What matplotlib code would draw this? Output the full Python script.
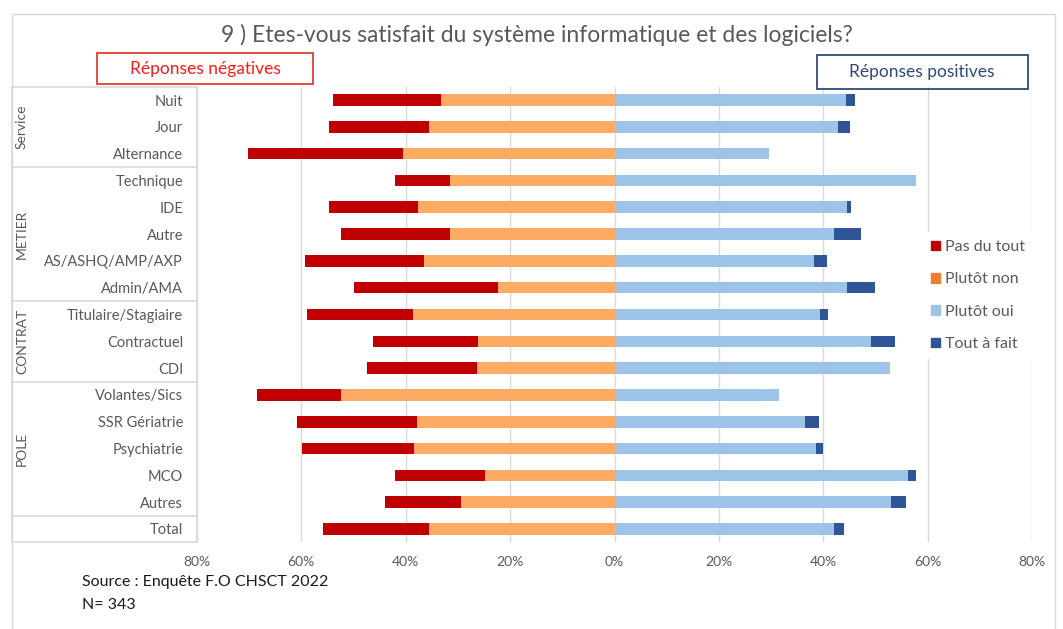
import numpy as np
import matplotlib.pyplot as plt
from matplotlib.patches import Patch, Rectangle
from matplotlib.transforms import blended_transform_factory

plt.rcParams['font.family'] = ['Lato', 'DejaVu Sans']

# --- données (en %) ---
categories = ["Nuit", "Jour", "Alternance",
              "Technique", "IDE", "Autre", "AS/ASHQ/AMP/AXP", "Admin/AMA",
              "Titulaire/Stagiaire", "Contractuel", "CDI",
              "Volantes/Sics", "SSR Gériatrie", "Psychiatrie", "MCO", "Autres",
              "Total"]
pas_du_tout = [20.6, 19.1, 29.7, 10.4, 17.0, 20.9, 22.9, 27.7,
               20.3, 20.1, 21.1, 16.0, 23.1, 21.4, 17.2, 14.5, 20.4]
plutot_non = [33.3, 35.6, 40.6, 31.6, 37.7, 31.6, 36.5, 22.3,
              38.7, 26.1, 26.3, 52.5, 37.8, 38.5, 24.9, 29.5, 35.5]
plutot_oui = [44.4, 42.8, 29.6, 57.8, 44.5, 42.1, 38.3, 44.5,
              39.3, 49.1, 52.7, 31.6, 36.5, 38.7, 56.2, 52.9, 42.0]
tout_a_fait = [1.6, 2.3, 0.0, 0.0, 0.8, 5.2, 2.4, 5.5,
               1.7, 4.7, 0.0, 0.0, 2.6, 1.2, 1.5, 3.0, 2.0]
groups = ["Service", "METIER", "CONTRAT", "POLE", ""]
group_sizes = [3, 5, 3, 5, 1]
ticks = [-80, -60, -40, -20, 0, 20, 40, 60, 80]

# couleurs
c_pdt, c_pn, c_po, c_taf = "#C00000", "#FDAB62", "#9DC3E6", "#2F5597"
grey_txt = "#595959"
line_col = "#D9D9D9"

fig = plt.figure(figsize=(10.63, 6.29), dpi=100)
W, H = 1063, 629
ax = fig.add_axes([197 / W, 1 - 542.4 / H, 835 / W, 455.8 / H])

y = np.arange(len(categories))
pdt = np.array(pas_du_tout)
pn = np.array(plutot_non)
po = np.array(plutot_oui)
taf = np.array(tout_a_fait)
h = 0.43

ax.barh(y, pdt, left=-(pn + pdt), height=h, color=c_pdt, zorder=3)
ax.barh(y, pn, left=-pn, height=h, color=c_pn, zorder=3)
ax.barh(y, po, left=0, height=h, color=c_po, zorder=3)
ax.barh(y, taf, left=po, height=h, color=c_taf, zorder=3)

ax.set_xlim(-80, 80)
ax.set_ylim(len(categories) - 0.5, -0.5)
ax.set_xticks(ticks)
ax.set_xticklabels([f"{abs(t)}%" for t in ticks])
for t in ticks:
    ax.axvline(t, color=line_col, lw=1, zorder=1)
ax.set_yticks(y)
ax.set_yticklabels(categories)
ax.tick_params(axis='y', length=0, pad=10, labelsize=10.5, labelcolor=grey_txt)
ax.tick_params(axis='x', length=0, pad=10, labelsize=10, labelcolor=grey_txt)
for s in ax.spines.values():
    s.set_visible(False)

# tableau des groupes à gauche
tr = blended_transform_factory(ax.transAxes, ax.transData)
x_left = (12 - 197) / 835
bounds = np.concatenate([[0], np.cumsum(group_sizes)]) - 0.5
for b in bounds:
    ax.plot([x_left, 0], [b, b], transform=tr, color=line_col, lw=1.2, clip_on=False)
ax.plot([x_left, x_left], [bounds[0], bounds[-1]], transform=tr, color=line_col, lw=1.2, clip_on=False)
ax.plot([0, 0], [bounds[0], bounds[-1]], transform=tr, color=line_col, lw=1.2, clip_on=False)
for g, lo, hi in zip(groups, bounds[:-1], bounds[1:]):
    if g:
        ax.text((22 - 197) / 835, (lo + hi) / 2, g, transform=tr, rotation=90,
                ha='center', va='center', fontsize=10, color=grey_txt)

# titre
fig.text(537 / W, 1 - 35 / H, "9 ) Etes-vous satisfait du système informatique et des logiciels?",
         ha='center', va='center', fontsize=16.5, color=grey_txt)

# encadrés
fig.patches.append(Rectangle((97 / W, 1 - 84 / H), 216 / W, 31 / H, transform=fig.transFigure,
                             fill=False, edgecolor="#E03C31", lw=1.3))
fig.text(205 / W, 1 - 69 / H, "Réponses négatives", ha='center', va='center',
         fontsize=12.5, color="#FF1A1A")
fig.patches.append(Rectangle((817 / W, 1 - 89 / H), 211 / W, 34 / H, transform=fig.transFigure,
                             fill=False, edgecolor="#2F4A7A", lw=1.3))
fig.text(922 / W, 1 - 72 / H, "Réponses positives", ha='center', va='center',
         fontsize=12.5, color="#2F4A7A")

# légende
handles = [Patch(color=c_pdt, label="Pas du tout"),
           Patch(color="#ED7D31", label="Plutôt non"),
           Patch(color=c_po, label="Plutôt oui"),
           Patch(color=c_taf, label="Tout à fait")]
leg = fig.legend(handles=handles, loc='upper left', bbox_to_anchor=(915 / W, 1 - 224 / H),
                 frameon=True, framealpha=1, edgecolor='none', fancybox=False,
                 handlelength=0.55, handleheight=0.55, handletextpad=0.35,
                 labelspacing=1.15, fontsize=11.5, borderpad=0.5)
for t in leg.get_texts():
    t.set_color(grey_txt)
leg.set_zorder(5)

# source
fig.text(82 / W, 1 - 582 / H, "Source : Enquête F.O CHSCT 2022", ha='left', va='center',
         fontsize=11.5, color="#1a1a1a")
fig.text(82 / W, 1 - 605 / H, "N= 343", ha='left', va='center', fontsize=11.5, color="#1a1a1a")

# cadre général
fig.patches.append(Rectangle((12 / W, -0.05), 1043 / W, 1 - 14 / H + 0.05,
                             transform=fig.transFigure, fill=False, edgecolor=line_col, lw=1))

fig.savefig("out.png", dpi=100)
